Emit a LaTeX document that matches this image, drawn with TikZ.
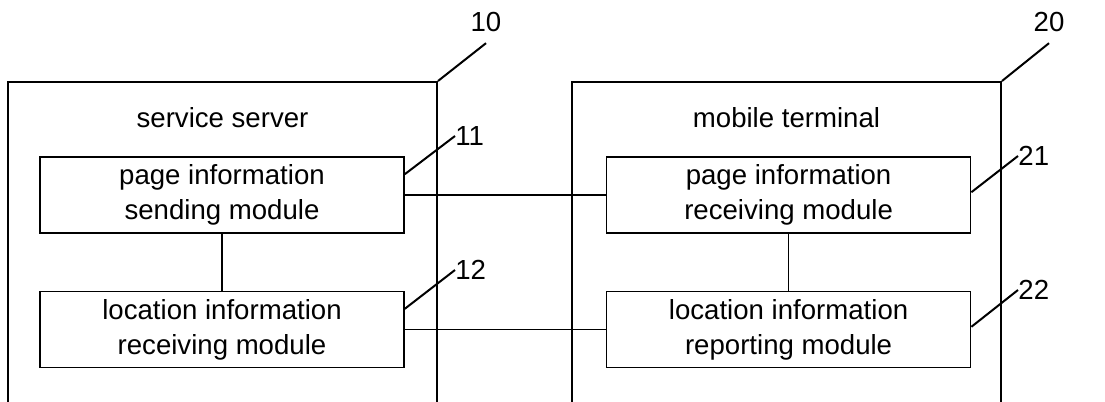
\documentclass[tikz,border=0pt]{standalone}
\usepackage{fontspec}
\setmainfont{Liberation Sans}
\usetikzlibrary{positioning}
\tikzset{%
  module/.style={
    draw,
    line width=0.8pt,
    minimum width=182pt,
    minimum height=38pt,
    align=center,
    inner sep=0pt
  },
  frame/.style={
    draw,
    line width=1pt,
    anchor=north,
    minimum width=214.5pt,
    minimum height=250pt
  },
  refnum/.style={
    inner sep=0pt
  },
}

\begin{document}
\begin{tikzpicture}[x=0.5pt,y=-0.5pt,font=\fontsize{13.8}{17.5}\selectfont]
      \useasboundingbox (0,0) rectangle (1105,402);
      \clip (0,0) rectangle (1105,402);
      \tikzstyle{leader}=[line width=1pt]
      \tikzstyle{link}=[line width=0.8pt]

      \node[frame] (server) at (222.5,81) {};
      \node[frame] (terminal) at (786.5,81) {};
      \node (servertitle) at ([yshift=-18.5pt]server.north) {service server};
      \node (terminaltitle) at ([yshift=-18.5pt]terminal.north) {mobile terminal};

      \node[module] (sendpage) at (222,195) {page information\\sending module};
      \node[module,below=28.5pt of sendpage] (recvloc) {location information\\receiving module};
      \node[module,right=100.5pt of sendpage] (recvpage) {page information\\receiving module};
      \node[module,below=28.5pt of recvpage] (reportloc) {location information\\reporting module};

      \node[refnum] (num10) at (486,22) {10};
      \node[refnum] (num20) at (1049,22) {20};
      \node[refnum,anchor=west] (num11) at (455,136) {11};
      \node[refnum,anchor=west] (num12) at (455,270) {12};
      \node[refnum,anchor=west] (num21) at (1018,156) {21};
      \node[refnum,anchor=west] (num22) at (1018,290) {22};

      \draw[link] (sendpage) -- (recvloc);
      \draw[link] (recvpage) -- (reportloc);
      \draw[link] (sendpage) -- (recvpage);
      \draw[link] (recvloc) -- (reportloc);

      \draw[leader] (server.north east) -- ([yshift=-5.5pt]num10.south);
      \draw[leader] (terminal.north east) -- ([yshift=-5.5pt]num20.south);
      \draw[leader] ([yshift=-9pt]sendpage.north east) -- (num11.west);
      \draw[leader] ([yshift=-9pt]recvloc.north east) -- (num12.west);
      \draw[leader] ([yshift=-18pt]recvpage.north east) -- (num21.west);
      \draw[leader] ([yshift=-18pt]reportloc.north east) -- (num22.west);
\end{tikzpicture}
\end{document}
